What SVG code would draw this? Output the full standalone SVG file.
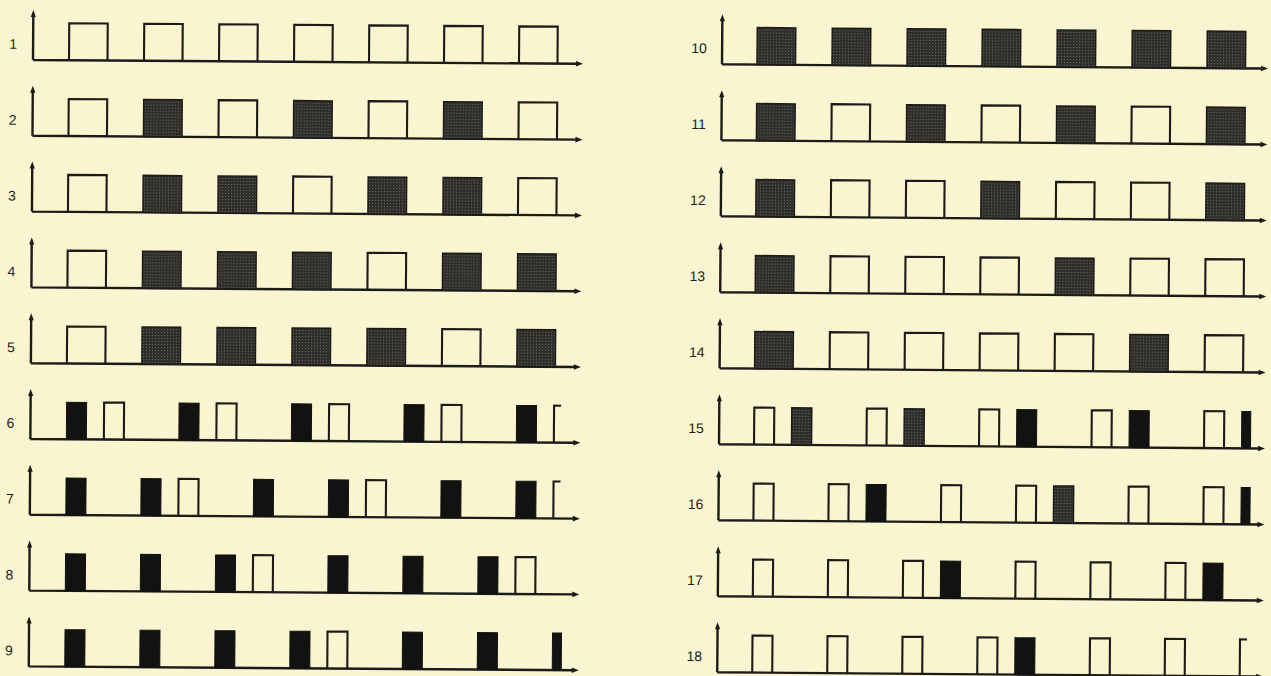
<svg xmlns="http://www.w3.org/2000/svg" xmlns:xlink="http://www.w3.org/1999/xlink" width="1271" height="676" viewBox="0 0 1271 676">
<style>
.ln{fill:none;stroke:#1c1b18;stroke-width:2.4;stroke-linejoin:miter}
.ah{fill:#1c1b18;stroke:none}
.pl{fill:none;stroke:#1c1b18;stroke-width:2.1}
.pf{fill:url(#st);stroke:#1c1b18;stroke-width:1.5}
.pb{fill:#121210;stroke:#121210;stroke-width:1}
.lb{font-family:"Liberation Sans",Arial,sans-serif;font-size:14px;fill:#1f1e1b;text-anchor:middle}
</style>
<defs>
<pattern id="st" width="3" height="3" patternUnits="userSpaceOnUse">
<rect width="3" height="3" fill="#2f2e2b"/>
<rect x="1" y="1" width="1" height="1" fill="#6e6c60"/>
</pattern>
<g id="axL">
<path class="ln" d="M33,0 V-44 M33,0 H577"/>
<polygon class="ah" points="33,-50 30.4,-43 35.6,-43"/>
<polygon class="ah" points="583,0 576,-2.8 576,2.8"/>
</g>
<g id="axR">
<path class="ln" d="M722,0 V-44 M722,0 H1262"/>
<polygon class="ah" points="722,-50 719.4,-43 724.6,-43"/>
<polygon class="ah" points="1268,0 1261,-2.8 1261,2.8"/>
</g>
<path id="wo" class="pl" d="M0,0 V-37 H38.5 V0"/>
<rect id="wf" class="pf" x="0" y="-37" width="38.5" height="37"/>
<path id="no" class="pl" d="M0,0 V-37 H20 V0"/>
<rect id="nb" class="pb" x="0" y="-37" width="20" height="37"/>
<rect id="ng" class="pf" x="0" y="-37" width="20" height="37"/>
<path id="po" class="pl" d="M0,0 V-37 H7"/>
<rect id="pbk" class="pb" x="0" y="-37" width="9" height="37"/>
</defs>
<rect width="1271" height="676" fill="#f8f5d0"/>

<g id="left" transform="rotate(0.4 33 60)">
<g id="row1" transform="translate(0,60)">
<use href="#axL"/><text class="lb" x="13" y="-11">1</text>
<use href="#wo" x="69"/><use href="#wo" x="144"/><use href="#wo" x="219"/><use href="#wo" x="294"/><use href="#wo" x="369"/><use href="#wo" x="444"/><use href="#wo" x="519"/>
</g>
<g id="row2" transform="translate(0,135.8)">
<use href="#axL"/><text class="lb" x="13" y="-11">2</text>
<use href="#wo" x="69"/><use href="#wf" x="144"/><use href="#wo" x="219"/><use href="#wf" x="294"/><use href="#wo" x="369"/><use href="#wf" x="444"/><use href="#wo" x="519"/>
</g>
<g id="row3" transform="translate(0,211.6)">
<use href="#axL"/><text class="lb" x="13" y="-11">3</text>
<use href="#wo" x="69"/><use href="#wf" x="144"/><use href="#wf" x="219"/><use href="#wo" x="294"/><use href="#wf" x="369"/><use href="#wf" x="444"/><use href="#wo" x="519"/>
</g>
<g id="row4" transform="translate(0,287.4)">
<use href="#axL"/><text class="lb" x="13" y="-11">4</text>
<use href="#wo" x="69"/><use href="#wf" x="144"/><use href="#wf" x="219"/><use href="#wf" x="294"/><use href="#wo" x="369"/><use href="#wf" x="444"/><use href="#wf" x="519"/>
</g>
<g id="row5" transform="translate(0,363.2)">
<use href="#axL"/><text class="lb" x="13" y="-11">5</text>
<use href="#wo" x="69"/><use href="#wf" x="144"/><use href="#wf" x="219"/><use href="#wf" x="294"/><use href="#wf" x="369"/><use href="#wo" x="444"/><use href="#wf" x="519"/>
</g>
<g id="row6" transform="translate(0,439)">
<use href="#axL"/><text class="lb" x="13" y="-11">6</text>
<use href="#nb" x="69"/><use href="#no" x="106.5"/><use href="#nb" x="181.5"/><use href="#no" x="219"/><use href="#nb" x="294"/><use href="#no" x="331.5"/><use href="#nb" x="406.5"/><use href="#no" x="444"/><use href="#nb" x="519"/><use href="#po" x="556.5"/>
</g>
<g id="row7" transform="translate(0,514.8)">
<use href="#axL"/><text class="lb" x="13" y="-11">7</text>
<use href="#nb" x="69"/><use href="#nb" x="144"/><use href="#no" x="181.5"/><use href="#nb" x="256.5"/><use href="#nb" x="331.5"/><use href="#no" x="369"/><use href="#nb" x="444"/><use href="#nb" x="519"/><use href="#po" x="556.5"/>
</g>
<g id="row8" transform="translate(0,590.6)">
<use href="#axL"/><text class="lb" x="13" y="-11">8</text>
<use href="#nb" x="69"/><use href="#nb" x="144"/><use href="#nb" x="219"/><use href="#no" x="256.5"/><use href="#nb" x="331.5"/><use href="#nb" x="406.5"/><use href="#nb" x="481.5"/><use href="#no" x="519"/>
</g>
<g id="row9" transform="translate(0,666.4)">
<use href="#axL"/><text class="lb" x="13" y="-11">9</text>
<use href="#nb" x="69"/><use href="#nb" x="144"/><use href="#nb" x="219"/><use href="#nb" x="294"/><use href="#no" x="331.5"/><use href="#nb" x="406.5"/><use href="#nb" x="481.5"/><use href="#pbk" x="556.5"/>
</g>
</g>

<g id="right" transform="rotate(0.45 722 64.3)">
<g id="row10" transform="translate(0,64.3)">
<use href="#axR"/><text class="lb" x="699" y="-11">10</text>
<use href="#wf" x="757"/><use href="#wf" x="832"/><use href="#wf" x="907"/><use href="#wf" x="982"/><use href="#wf" x="1057"/><use href="#wf" x="1132"/><use href="#wf" x="1207"/>
</g>
<g id="row11" transform="translate(0,140.3)">
<use href="#axR"/><text class="lb" x="699" y="-11">11</text>
<use href="#wf" x="757"/><use href="#wo" x="832"/><use href="#wf" x="907"/><use href="#wo" x="982"/><use href="#wf" x="1057"/><use href="#wo" x="1132"/><use href="#wf" x="1207"/>
</g>
<g id="row12" transform="translate(0,216.3)">
<use href="#axR"/><text class="lb" x="699" y="-11">12</text>
<use href="#wf" x="757"/><use href="#wo" x="832"/><use href="#wo" x="907"/><use href="#wf" x="982"/><use href="#wo" x="1057"/><use href="#wo" x="1132"/><use href="#wf" x="1207"/>
</g>
<g id="row13" transform="translate(0,292.3)">
<use href="#axR"/><text class="lb" x="699" y="-11">13</text>
<use href="#wf" x="757"/><use href="#wo" x="832"/><use href="#wo" x="907"/><use href="#wo" x="982"/><use href="#wf" x="1057"/><use href="#wo" x="1132"/><use href="#wo" x="1207"/>
</g>
<g id="row14" transform="translate(0,368.3)">
<use href="#axR"/><text class="lb" x="699" y="-11">14</text>
<use href="#wf" x="757"/><use href="#wo" x="832"/><use href="#wo" x="907"/><use href="#wo" x="982"/><use href="#wo" x="1057"/><use href="#wf" x="1132"/><use href="#wo" x="1207"/>
</g>
<g id="row15" transform="translate(0,444.3)">
<use href="#axR"/><text class="lb" x="699" y="-11">15</text>
<use href="#no" x="757"/><use href="#ng" x="794.5"/><use href="#no" x="869.5"/><use href="#ng" x="907"/><use href="#no" x="982"/><use href="#nb" x="1019.5"/><use href="#no" x="1094.5"/><use href="#nb" x="1132"/><use href="#no" x="1207"/><use href="#pbk" x="1244.5"/>
</g>
<g id="row16" transform="translate(0,520.3)">
<use href="#axR"/><text class="lb" x="699" y="-11">16</text>
<use href="#no" x="757"/><use href="#no" x="832"/><use href="#nb" x="869.5"/><use href="#no" x="944.5"/><use href="#no" x="1019.5"/><use href="#ng" x="1057"/><use href="#no" x="1132"/><use href="#no" x="1207"/><use href="#pbk" x="1244.5"/>
</g>
<g id="row17" transform="translate(0,596.3)">
<use href="#axR"/><text class="lb" x="699" y="-11">17</text>
<use href="#no" x="757"/><use href="#no" x="832"/><use href="#no" x="907"/><use href="#nb" x="944.5"/><use href="#no" x="1019.5"/><use href="#no" x="1094.5"/><use href="#no" x="1169.5"/><use href="#nb" x="1207"/>
</g>
<g id="row18" transform="translate(0,672.3)">
<use href="#axR"/><text class="lb" x="699" y="-11">18</text>
<use href="#no" x="757"/><use href="#no" x="832"/><use href="#no" x="907"/><use href="#no" x="982"/><use href="#nb" x="1019.5"/><use href="#no" x="1094.5"/><use href="#no" x="1169.5"/><use href="#po" x="1244.5"/>
</g>
</g>
</svg>
